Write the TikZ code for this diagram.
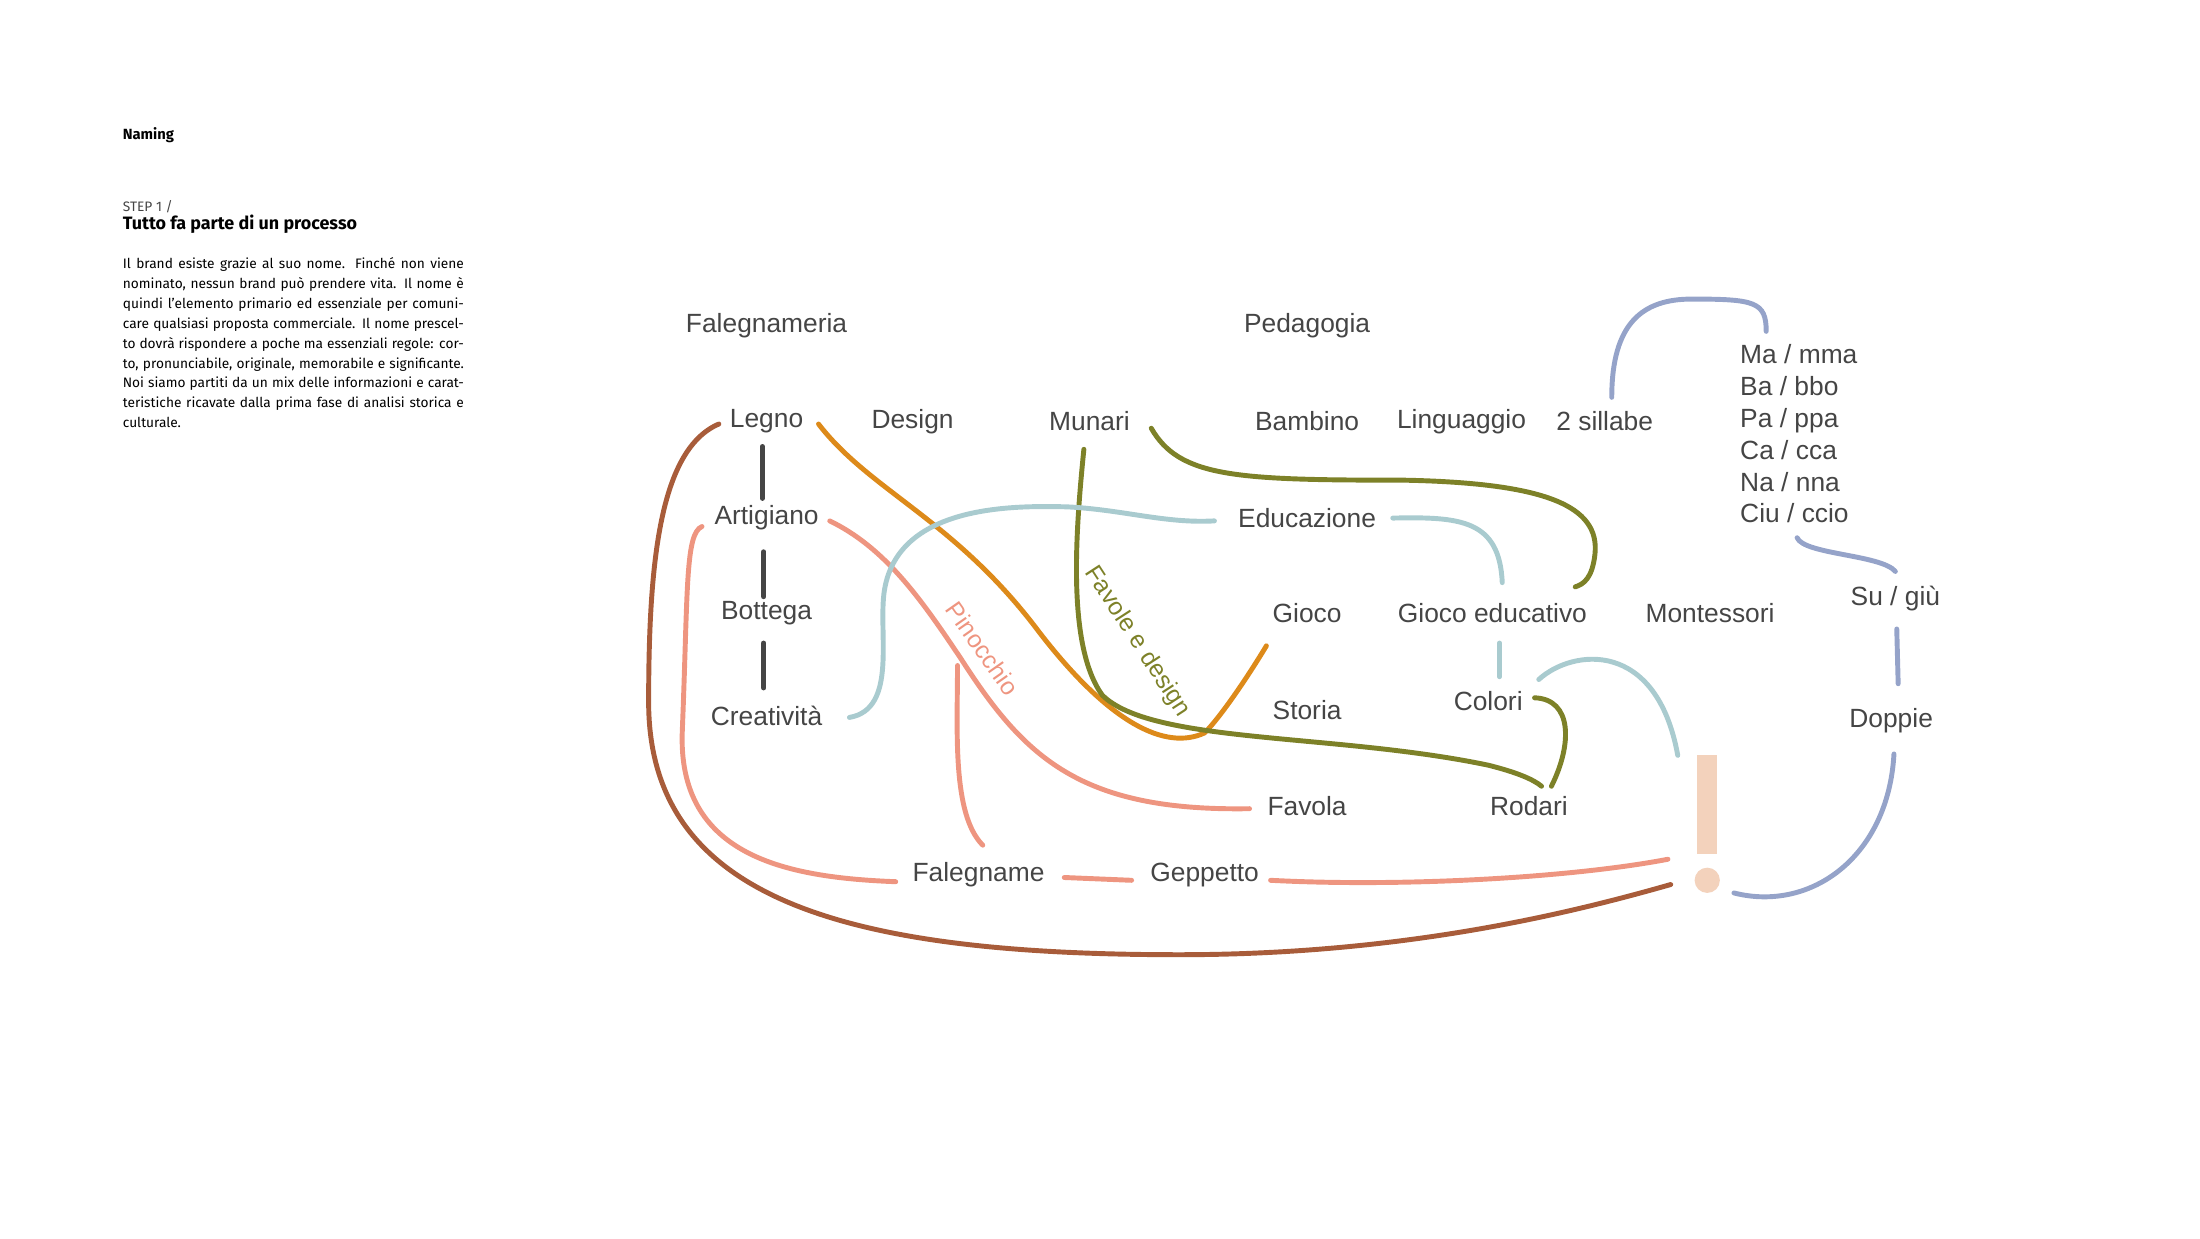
\documentclass[tikz,border=0pt]{standalone}
\usepackage{fontspec}
\setmainfont{Liberation Sans}
\newfontfamily\notefont{Fira Sans}
\usetikzlibrary{positioning}
\definecolor{brownline}{HTML}{A85C3A}
\definecolor{salmon}{HTML}{EE9580}
\definecolor{orangeline}{HTML}{DD8A1A}
\definecolor{olive}{HTML}{7D8128}
\definecolor{teal}{HTML}{A9CBCF}
\definecolor{lilac}{HTML}{95A3C9}
\definecolor{peach}{HTML}{F3D2BC}
\definecolor{ink}{HTML}{454545}
\begin{document}
\begin{tikzpicture}[x=0.01404cm,y=-0.01404cm,
  word/.style={font=\fontsize{7.5}{9}\selectfont, text=ink, inner sep=2pt},
  link/.style={line width=1.4pt, line cap=round},
  note/.style={anchor=west, inner sep=0, font=\notefont\fontsize{3.9}{5.66}\selectfont}]
  \useasboundingbox (0,0) rectangle (1567,882);

  % left column
  \node[note, font=\notefont\bfseries\fontsize{4.2}{5}\selectfont] (naming) at (87,96) {Naming};
  \node[note, font=\notefont\fontsize{3.9}{5}\selectfont, text=ink] (step) at (87,147) {STEP 1 /};
  \node[note, font=\notefont\bfseries\fontsize{5.1}{6}\selectfont] (title) at (87,160) {Tutto fa parte di un processo};
  \node[note, anchor=north west, text width=3.41cm, align=justify] (body) at (87,183)
    {Il brand esiste grazie al suo nome. Finché non viene nominato, nessun brand può prendere vita. Il nome è quindi l’elemento primario ed essenziale per comuni-\linebreak care qualsiasi proposta commerciale. Il nome prescel-\linebreak to dovrà rispondere a poche ma essenziali regole: cor-\linebreak to, pronunciabile, originale, memorabile e significante. Noi siamo partiti da un mix delle informazioni e carat-\linebreak teristiche ricavate dalla prima fase di analisi storica e culturale.};

  % words
  \node[word] (falegnameria) at (546,232) {Falegnameria};
  \node[word] (pedagogia) at (931,232) {Pedagogia};
  \node[word] (legno) at (546,300) {Legno};
  \node[word] (design) at (650,300) {Design};
  \node[word] (munari) at (776,300) {Munari};
  \node[word] (bambino) at (931,300) {Bambino};
  \node[word] (linguaggio) at (1041,300) {Linguaggio};
  \node[word] (sillabe) at (1143,300) {2 sillabe};
  \node[word, anchor=west, align=left, font=\fontsize{7.5}{9.06}\selectfont] (coppie) at (1234,309)
    {Ma / mma\\Ba / bbo\\Pa / ppa\\Ca / cca\\Na / nna\\Ciu / ccio};
  \node[word] (artigiano) at (546,369) {Artigiano};
  \node[word] (educazione) at (931,369) {Educazione};
  \node[word] (bottega) at (546,437) {Bottega};
  \node[word] (gioco) at (931,437) {Gioco};
  \node[word] (giocoed) at (1063,437) {Gioco educativo};
  \node[word] (montessori) at (1218,437) {Montessori};
  \node[word] (sugiu) at (1350,426) {Su / giù};
  \node[word] (creativita) at (546,510) {Creatività};
  \node[word] (storia) at (931,506) {Storia};
  \node[word] (colori) at (1060,499) {Colori};
  \node[word] (doppie) at (1347,513) {Doppie};
  \node[word] (favola) at (931,574) {Favola};
  \node[word] (rodari) at (1089,574) {Rodari};
  \node[word] (falegname) at (697,623) {Falegname};
  \node[word] (geppetto) at (858,623) {Geppetto};

  % exclamation mark
  \fill[peach] (1209,538) rectangle (1223,608);
  \fill[peach] (1216,627) circle (9);
  \coordinate (bang) at (1216,590);

  % dark links
  \draw[link, ink] (543,318) -- (543,355);
  \draw[link, ink] (544,393) -- (544,425);
  \draw[link, ink] (544,458) -- (544,490);

  % brown
  \draw[link, brownline] (512,302) .. controls (470,320) and (462,400) .. (462,500)
    .. controls (462,640) and (600,680) .. (840,680) .. controls (1000,680) and (1120,650) .. (1190,630);

  % salmon
  \draw[link, salmon] (500,375) .. controls (488,380) and (490,420) .. (486,520)
    .. controls (482,610) and (560,625) .. (638,628);
  \draw[link, salmon] (758,625) -- (806,627);
  \draw[link, salmon] (905,627) .. controls (1000,632) and (1120,625) .. (1188,612);
  \draw[link, salmon] (591,371) .. controls (630,390) and (655,425) .. (685,470)
    .. controls (730,540) and (770,578) .. (890,576);
  \draw[link, salmon] (682,474) .. controls (682,520) and (678,580) .. (700,602);
  \node[font=\fontsize{7}{8}\selectfont, text=salmon, rotate=-55] (pinocchio) at (700,462) {Pinocchio};

  % orange
  \draw[link, orangeline] (583,302) .. controls (620,350) and (680,370) .. (740,450)
    .. controls (790,515) and (830,535) .. (858,522) .. controls (870,510) and (890,480) .. (902,460);

  % olive
  \draw[link, olive] (772,320) .. controls (766,380) and (760,460) .. (785,495)
    .. controls (820,530) and (950,522) .. (1060,545) .. controls (1080,550) and (1092,555) .. (1098,560);
  \node[font=\fontsize{7}{8}\selectfont, text=olive, rotate=-57] (favole) at (810,457) {Favole e design};
  \draw[link, olive] (820,305) .. controls (840,340) and (880,342) .. (1000,342)
    .. controls (1100,344) and (1140,360) .. (1136,395) .. controls (1134,412) and (1128,416) .. (1122,418);
  \draw[link, olive] (1093,497) .. controls (1120,498) and (1120,530) .. (1105,560);

  % teal
  \draw[link, teal] (605,511) .. controls (640,505) and (625,450) .. (630,420)
    .. controls (640,360) and (720,360) .. (760,361) .. controls (800,363) and (830,373) .. (865,371);
  \draw[link, teal] (992,369) .. controls (1040,368) and (1068,370) .. (1070,415);
  \draw[link, teal] (1068,458) -- (1068,482);
  \draw[link, teal] (1096,484) .. controls (1120,462) and (1180,455) .. (1195,538);

  % lilac
  \draw[link, lilac] (1148,283) .. controls (1148,230) and (1170,213) .. (1205,213)
    .. controls (1250,213) and (1258,215) .. (1258,236);
  \draw[link, lilac] (1280,383) .. controls (1285,395) and (1340,395) .. (1350,407);
  \draw[link, lilac] (1351,448) -- (1352,487);
  \draw[link, lilac] (1349,537) .. controls (1345,610) and (1290,650) .. (1235,636);
\end{tikzpicture}
\end{document}
